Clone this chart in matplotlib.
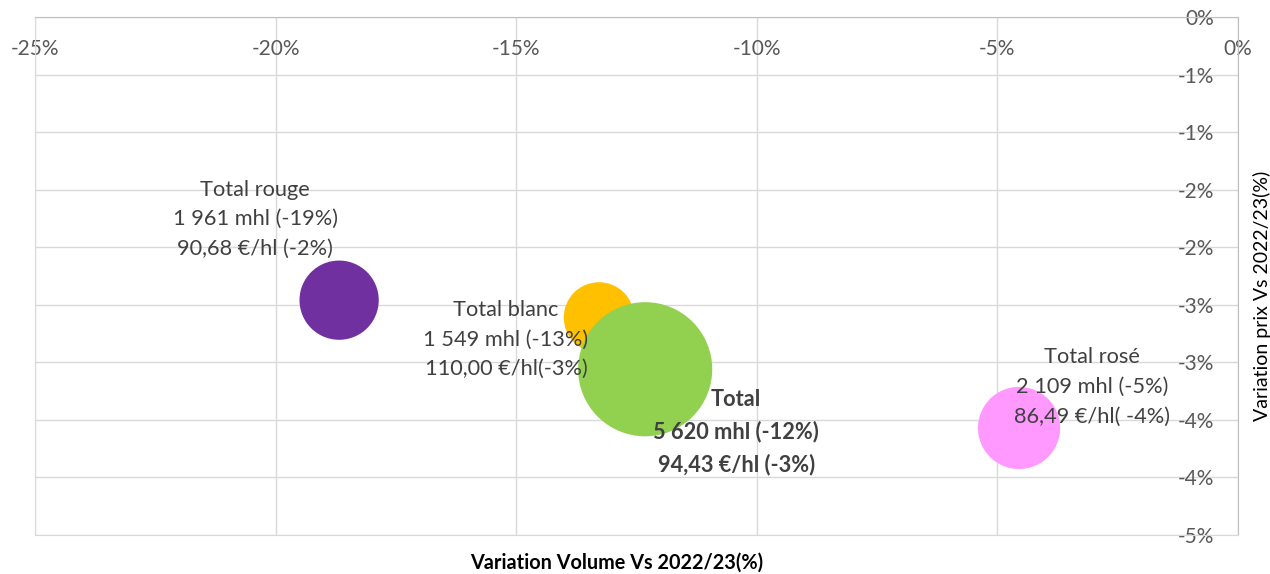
import matplotlib
matplotlib.use("Agg")
import matplotlib.pyplot as plt

plt.rcParams['font.family'] = ['Lato', 'DejaVu Sans']

# data ----------------
names = ['Total rouge', 'Total blanc', 'Total', 'Total rosé']
vol_var = [-18.68, -13.28, -12.32, -4.55]      # % variation volume
price_var = [-2.46, -2.61, -3.06, -3.57]       # % variation prix
volumes = [1961, 1549, 5620, 2109]             # mhl
labels = [
    'Total rouge\n1 961 mhl (-19%)\n90,68 €/hl (-2%)',
    'Total blanc\n1 549 mhl (-13%)\n110,00 €/hl(-3%)',
    'Total\n5 620 mhl (-12%)\n94,43 €/hl (-3%)',
    'Total rosé\n2 109 mhl (-5%)\n86,49 €/hl( -4%)',
]
colors = ['#7030A0', '#FFC000', '#92D050', '#FF99FF']

x_ticks = [-25, -20, -15, -10, -5, 0]
x_tick_labels = ['-25%', '-20%', '-15%', '-10%', '-5%', '0%']
y_ticks = [0, -0.5, -1, -1.5, -2, -2.5, -3, -3.5, -4, -4.5]
y_tick_labels = ['0%', '-1%', '-1%', '-2%', '-2%', '-3%', '-3%', '-4%', '-4%', '-5%']

# plot --------------
fig = plt.figure(figsize=(12.7, 5.74), dpi=100)
ax = fig.add_axes([35 / 1270, 39 / 574, 1203 / 1270, 518 / 574])

# bubble area proportional to volume
sizes = [v * 1.66 for v in volumes]
ax.scatter(vol_var, price_var, s=sizes, c=colors, linewidths=0, zorder=3)

# label offsets in pixels (dx, dy), bold for total
offsets = [(-84, 81), (-93, -22), (91, -63), (73, 41)]
for i in range(len(names)):
    ax.annotate(labels[i], (vol_var[i], price_var[i]),
                xytext=offsets[i], textcoords='offset pixels',
                ha='center', va='center', multialignment='center',
                fontsize=15.7, color='#404040', linespacing=1.6,
                fontweight='bold' if names[i] == 'Total' else 'normal',
                zorder=4)

ax.set_xlim(-25, 0)
ax.set_ylim(-4.5, 0)
ax.set_xticks(x_ticks)
ax.set_xticklabels(x_tick_labels)
ax.set_yticks(y_ticks)
ax.set_yticklabels(y_tick_labels)

ax.grid(True, color='#D9D9D9', linewidth=1, zorder=0)
ax.set_axisbelow(True)
for side in ['left', 'bottom']:
    ax.spines[side].set_color('#D9D9D9')
for side in ['top', 'right']:
    ax.spines[side].set_color('#BFBFBF')

ax.xaxis.set_ticks_position('top')
ax.tick_params(axis='x', length=0, labeltop=True, labelbottom=False,
               pad=-30, labelsize=15, labelcolor='#595959')
ax.yaxis.set_ticks_position('right')
ax.tick_params(axis='y', length=0, labelright=True, labelleft=False,
               pad=-17, labelsize=15, labelcolor='#595959')
for t in ax.get_yticklabels():
    t.set_horizontalalignment('right')

fig.text(617 / 1270, 1 - 563 / 574, 'Variation Volume Vs 2022/23(%)',
         ha='center', va='center', fontsize=14.3, fontweight='bold', color='black')
fig.text(1262 / 1270, 1 - 296 / 574, 'Variation prix Vs 2022/23(%)',
         ha='center', va='center', rotation=90, fontsize=14, color='black')

fig.savefig('out.png', dpi=100)
